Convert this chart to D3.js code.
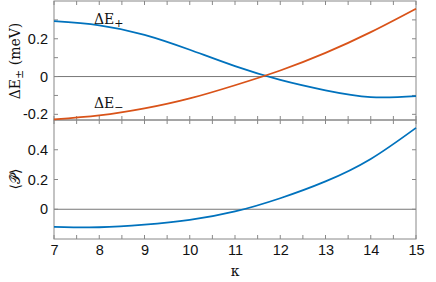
<!DOCTYPE html>
<html>
<head>
<meta charset="utf-8">
<script src="https://cdn.jsdelivr.net/npm/d3@7"></script>
<style>
  body { margin: 0; background: #fff; }
  svg { display: block; }
  .tick text { font-family: "Liberation Sans", Arial, sans-serif; }
</style>
</head>
<body>
<div id="chart"></div>
<script>
// kappa values and curves
const kappa = [7, 8, 9, 10, 11, 12, 13, 14, 15];
const dEplus = [0.293, 0.271, 0.221, 0.142, 0.055, -0.018, -0.073, -0.109, -0.104];
const dEminus = [-0.227, -0.206, -0.169, -0.116, -0.046, 0.032, 0.125, 0.235, 0.359];
const pExp = [-0.118, -0.121, -0.104, -0.072, -0.015, 0.074, 0.187, 0.338, 0.547];

const xTicks = [7, 8, 9, 10, 11, 12, 13, 14, 15];
const topTicks = [-0.2, 0, 0.2];
const botTicks = [0, 0.2, 0.4];

const W = 436, H = 282;
const left = 54, right = 416;
const blue = "#0072BD", orange = "#D95319", frame = "#888";

const svg = d3.select("#chart").append("svg")
  .attr("width", W).attr("height", H);

const x = d3.scaleLinear().domain([7, 15]).range([left, right]);
const yTop = d3.scaleLinear().domain([-0.23, 0.4]).range([120, 1]);
const yBot = d3.scaleLinear().domain([-0.2, 0.6]).range([239, 120]);

function panel(y, ticks, minor, showX) {
  const g = svg.append("g");
  const [y0, y1] = y.range();

  // zero line
  g.append("line")
    .attr("x1", left).attr("x2", right)
    .attr("y1", y(0)).attr("y2", y(0))
    .attr("stroke", "#777").attr("stroke-width", 1);

  // tick marks inside on all sides
  const xt = d3.range(7, 15.01, 0.5);
  xt.forEach(v => {
    g.append("line").attr("x1", x(v)).attr("x2", x(v))
      .attr("y1", y0).attr("y2", y0 - 4).attr("stroke", frame);
    g.append("line").attr("x1", x(v)).attr("x2", x(v))
      .attr("y1", y1).attr("y2", y1 + 4).attr("stroke", frame);
  });
  minor.forEach(v => {
    g.append("line").attr("x1", left).attr("x2", left + 4)
      .attr("y1", y(v)).attr("y2", y(v)).attr("stroke", frame);
    g.append("line").attr("x1", right).attr("x2", right - 4)
      .attr("y1", y(v)).attr("y2", y(v)).attr("stroke", frame);
  });

  // frame
  g.append("rect")
    .attr("x", left).attr("y", y1)
    .attr("width", right - left).attr("height", y0 - y1)
    .attr("fill", "none").attr("stroke", frame).attr("stroke-width", 1);

  // y tick labels
  const ya = g.append("g").attr("transform", `translate(${left},0)`)
    .call(d3.axisLeft(y).tickValues(ticks).tickSize(0).tickPadding(6)
      .tickFormat(d => d === 0 ? "0" : d3.format(".1f")(d).replace("−", "-")));
  ya.select(".domain").remove();
  ya.selectAll("text").attr("font-size", 14.5).attr("fill", "#111");

  if (showX) {
    const xa = g.append("g").attr("transform", `translate(0,${y0})`)
      .call(d3.axisBottom(x).tickValues(xTicks).tickSize(0).tickPadding(6)
        .tickFormat(d3.format("d")));
    xa.select(".domain").remove();
    xa.selectAll("text").attr("font-size", 14.5).attr("fill", "#111");
  }
  return g;
}

panel(yTop, topTicks, [-0.2, -0.1, 0, 0.1, 0.2, 0.3], false);
panel(yBot, botTicks, [0, 0.2, 0.4], true);

function curve(y, vals, color) {
  const line = d3.line()
    .x((d, i) => x(kappa[i]))
    .y(d => y(d))
    .curve(d3.curveNatural);
  svg.append("path").datum(vals)
    .attr("d", line)
    .attr("fill", "none")
    .attr("stroke", color)
    .attr("stroke-width", 1.8);
}

curve(yTop, dEplus, blue);
curve(yTop, dEminus, orange);
curve(yBot, pExp, blue);

const serif = "'DejaVu Serif', serif";

// curve labels
function eLabel(px, py, sub) {
  const t = svg.append("text").attr("x", px).attr("y", py)
    .attr("font-family", serif).attr("font-size", 14).attr("fill", "#111");
  t.append("tspan").text("ΔE");
  t.append("tspan").attr("dy", 3).attr("font-size", 11).text(sub);
}
eLabel(94, 24, "+");
eLabel(94, 108, "−");

// y label top
const yl = svg.append("text")
  .attr("transform", `translate(20,61) rotate(-90)`)
  .attr("text-anchor", "middle")
  .attr("font-family", serif).attr("font-size", 14).attr("fill", "#111");
yl.append("tspan").text("ΔE");
yl.append("tspan").attr("dy", 3).attr("font-size", 11).text("±");
yl.append("tspan").attr("dy", -3).text(" (meV)");

// y label bottom
svg.append("text")
  .attr("transform", `translate(20,179) rotate(-90)`)
  .attr("text-anchor", "middle")
  .attr("font-family", serif).attr("font-size", 14).attr("fill", "#111")
  .text("⟨𝒫̂⟩");

// x label
svg.append("text")
  .attr("x", x(11)).attr("y", 276)
  .attr("text-anchor", "middle")
  .attr("font-family", serif).attr("font-size", 14).attr("fill", "#111")
  .text("κ");
</script>
</body>
</html>
